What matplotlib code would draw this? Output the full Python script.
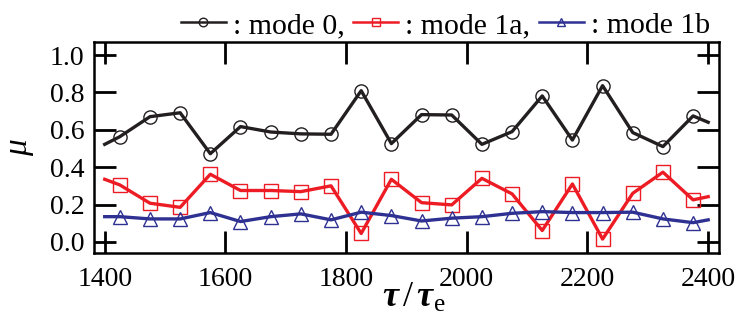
import numpy as np
import matplotlib
matplotlib.use("Agg")
import matplotlib.pyplot as plt

plt.rcParams['font.family'] = ['Liberation Serif', 'DejaVu Serif']
plt.rcParams['mathtext.fontset'] = 'custom'
plt.rcParams['mathtext.rm'] = 'Liberation Serif'
plt.rcParams['mathtext.it'] = 'Liberation Serif:italic'
plt.rcParams['mathtext.bf'] = 'Liberation Serif:bold'
plt.rcParams['mathtext.bfit'] = 'Liberation Serif:bold:italic'

# Time axis: line runs 1400..2400, markers every 50 from 1425
t_line = [1400] + list(range(1425, 2400, 50)) + [2400]

mode0 = [0.522, 0.563, 0.670, 0.691, 0.472, 0.617, 0.588, 0.578, 0.576, 0.809, 0.526,
         0.681, 0.679, 0.522, 0.590, 0.781, 0.545, 0.836, 0.585, 0.510, 0.674, 0.640]
mode1a = [0.335, 0.305, 0.207, 0.185, 0.362, 0.275, 0.275, 0.269, 0.300, 0.045, 0.335,
          0.210, 0.198, 0.340, 0.257, 0.061, 0.310, 0.015, 0.260, 0.373, 0.225, 0.242]
mode1b = [0.135, 0.135, 0.123, 0.123, 0.157, 0.109, 0.135, 0.150, 0.118, 0.159, 0.141,
          0.112, 0.127, 0.135, 0.153, 0.162, 0.157, 0.157, 0.159, 0.123, 0.103, 0.118]

labels = [': mode 0,', ': mode 1a,', ': mode 1b']
colors = ['#231f20', '#ed1c24', '#2e3192']
markers = ['o', 's', '^']

fig = plt.figure(figsize=(7.39, 3.20), dpi=100)
ax = fig.add_axes([0.127, 0.209, 0.846, 0.660])

for vals, lab, col, mk in zip([mode0, mode1a, mode1b], labels, colors, markers):
    ax.plot(t_line, vals, '-', color=col, lw=2.4, marker=mk, markersize=9.5,
            markerfacecolor='none', markeredgecolor=col, markeredgewidth=1.0,
            markevery=list(range(1, len(t_line) - 1)), label=lab)

ax.set_xlim(1382, 2418)
ax.set_ylim(-0.06, 1.07)
ax.set_xticks(np.arange(1400, 2401, 200))
ax.set_yticks(np.arange(0, 1.01, 0.2))
ax.set_yticklabels([f'{v:.1f}' for v in np.arange(0, 1.01, 0.2)])
ax.tick_params(direction='in', length=16, width=2.0, labelsize=20,
               top=True, right=True)
ax.tick_params(axis='x', pad=10)
ax.tick_params(axis='y', pad=7)
for s in ax.spines.values():
    s.set_linewidth(1.8)

ax.set_xlabel(r'$\mathbfit{\tau}\,/\,\mathbfit{\tau}_{\rm e}$', fontsize=26)
ax.xaxis.set_label_coords(0.512, -0.255)
ax.xaxis.label.set_verticalalignment('baseline')
ax.set_ylabel(r'$\mu$', fontsize=24, labelpad=10)

leg = ax.legend(loc='lower right', bbox_to_anchor=(0.99, 1.0), ncol=3, frameon=False,
                fontsize=21.5, handlelength=1.5, handletextpad=0.23, columnspacing=0.3,
                borderaxespad=0.0, borderpad=0.1, markerscale=0.65)
for h in leg.get_lines():
    h.set_linewidth(1.8)

fig.savefig('out.png', dpi=100)
